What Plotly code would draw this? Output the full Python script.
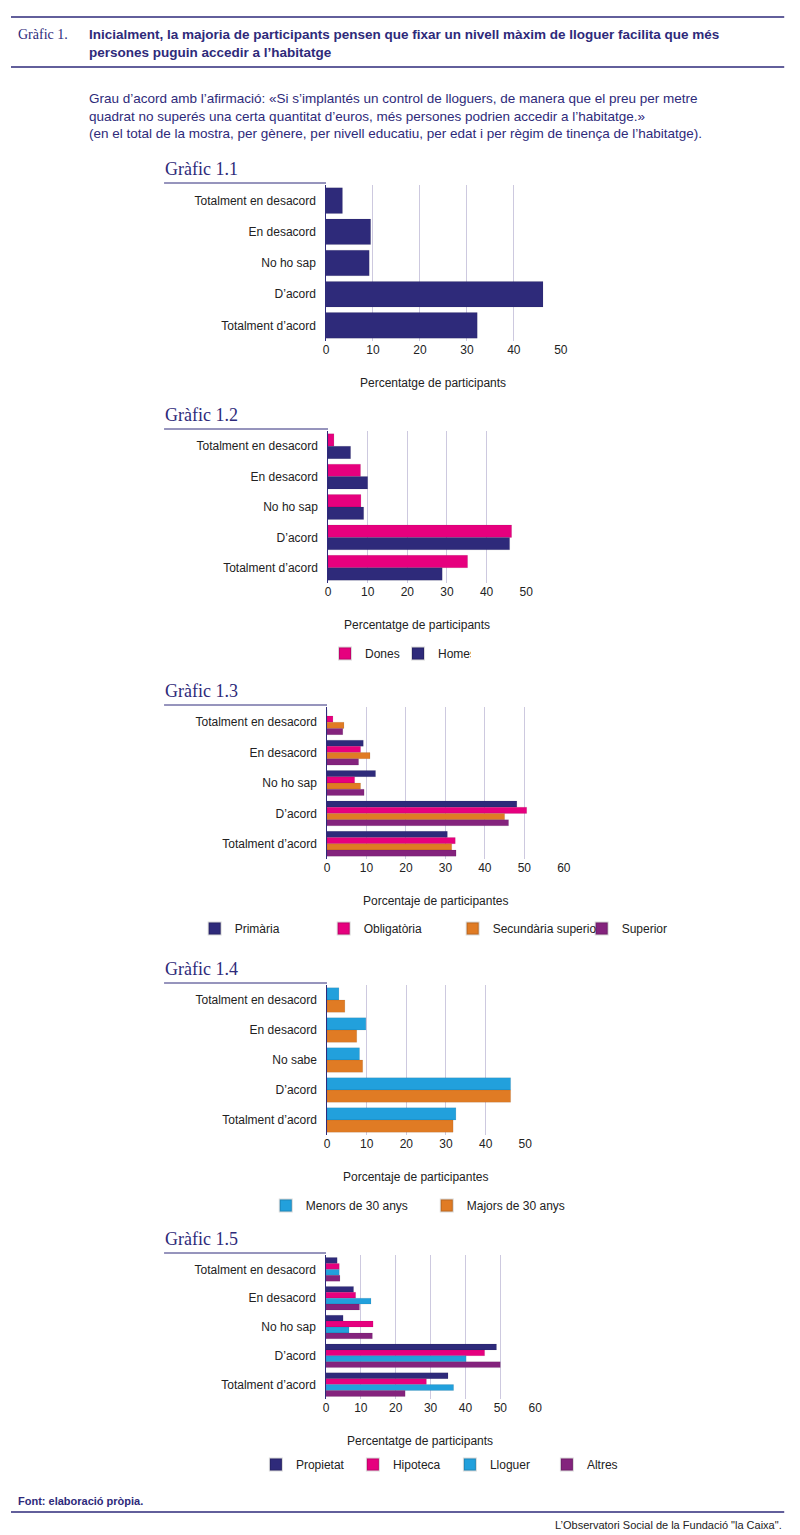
import plotly.graph_objects as go

W, H = 800, 1535
OFF = 7  # page margin compensation
NAVY = "#2e2a7a"
PINK = "#e6007e"
ORANGE = "#e07b24"
PURPLE = "#84237d"
CYAN = "#22a0dc"
GRID = "#cdc9df"

cats = ["Totalment en desacord", "En desacord", "No ho sap", "D’acord", "Totalment d’acord"]
cats_14 = ["Totalment en desacord", "En desacord", "No sabe", "D’acord", "Totalment d’acord"]

total = [3.5, 9.5, 9.2, 46.2, 32.2]

dones = [1.5, 8.2, 8.3, 46.3, 35.2]
homes = [5.7, 10.0, 9.0, 45.8, 28.8]

primaria = [0, 9.2, 12.3, 48.1, 30.5]
obligatoria = [1.5, 8.5, 7.0, 50.6, 32.5]
secundaria = [4.3, 10.9, 8.5, 45.0, 31.6]
superior = [4.0, 8.0, 9.4, 46.0, 32.7]

menors30 = [3.0, 9.8, 8.2, 46.3, 32.5]
majors30 = [4.5, 7.5, 9.0, 46.3, 31.8]

propietat = [3.2, 7.9, 4.9, 48.9, 35.0]
hipoteca = [3.8, 8.5, 13.5, 45.5, 28.8]
lloguer = [3.8, 12.9, 6.6, 40.2, 36.6]
altres = [4.0, 9.6, 13.3, 50.0, 22.7]


def px(x):
    return (x - OFF) / W


def py(y):
    return 1 - (y - OFF) / H


# (title, categories, series, x px of 0 and max, max, plot y px top/bottom, axis title, legend y px, legend x px, entrywidth)
charts = [
    ("Gràfic 1.1", cats, [("Total", total, NAVY)], (326, 563), 50, (184, 340),
     "Percentatge de participants", None, 0, 0),
    ("Gràfic 1.2", cats, [("Dones", dones, PINK), ("Homes", homes, NAVY)], (328, 528), 50, (430, 582),
     "Percentatge de participants", 648, 325, 28),
    ("Gràfic 1.3", cats, [("Primària", primaria, NAVY), ("Obligatòria", obligatoria, PINK),
                          ("Secundària superior", secundaria, ORANGE), ("Superior", superior, PURPLE)],
     (327, 566), 60, (706, 858), "Porcentaje de participantes", 923, 193, 84),
    ("Gràfic 1.4", cats_14, [("Menors de 30 anys", menors30, CYAN), ("Majors de 30 anys", majors30, ORANGE)],
     (327, 527), 50, (984, 1134), "Porcentaje de participantes", 1200, 265, 116),
    ("Gràfic 1.5", cats, [("Propietat", propietat, NAVY), ("Hipoteca", hipoteca, PINK),
                          ("Lloguer", lloguer, CYAN), ("Altres", altres, PURPLE)],
     (326, 537), 60, (1254, 1398), "Percentatge de participants", 1459, 255, 52),
]

fig = go.Figure()
layout = {}
annotations = []
shapes = []

for i, (title, cc, series, (x0, x1), xmax, (yt, yb), xtitle, ly, lx, ew) in enumerate(charts):
    n = i + 1
    xa = "x" if n == 1 else f"x{n}"
    ya = "y" if n == 1 else f"y{n}"
    lg = "legend" if n == 1 else f"legend{n}"
    for name, vals, col in series:
        fig.add_trace(go.Bar(
            y=cc, x=vals, name=name, orientation="h", marker_color=col,
            marker_line=dict(color="rgba(0,0,0,0.15)", width=0.5),
            xaxis=xa, yaxis=ya, legend=lg, showlegend=ly is not None,
        ))
    layout["xaxis" if n == 1 else f"xaxis{n}"] = dict(
        domain=[px(x0), px(x1) + 0.001], range=[0, xmax], dtick=10, anchor=ya,
        showgrid=True, gridcolor=GRID, gridwidth=1, zeroline=False,
        tickfont=dict(size=12, color="#222"), ticks="", showline=False,
    )
    layout["yaxis" if n == 1 else f"yaxis{n}"] = dict(
        domain=[py(yb), py(yt)], anchor=xa, categoryorder="array", categoryarray=cc,
        autorange="reversed", showline=True, linecolor=NAVY, linewidth=1,
        tickfont=dict(size=12, color="#222"), ticks="", ticksuffix="  ",
    )
    shapes.append(dict(type="line", xref="paper", yref="paper", x0=px(162), x1=px(x0),
                       y0=py(yt - 2), y1=py(yt - 2), line=dict(color=NAVY, width=1)))
    annotations.append(dict(text=title, x=px(161), y=py(yt - 4), xref="paper", yref="paper",
                            xanchor="left", yanchor="bottom", showarrow=False,
                            font=dict(family="Liberation Serif", size=18, color=NAVY)))
    annotations.append(dict(text=xtitle, x=px((x0 + x1) / 2 - 10), y=py(yb + 42), xref="paper",
                            yref="paper", xanchor="center", yanchor="middle", showarrow=False,
                            font=dict(size=12, color="#222")))
    if ly is not None:
        layout[lg] = dict(orientation="h", x=px(lx), y=py(ly - 10), xanchor="left", yanchor="top",
                          entrywidth=ew, font=dict(size=12, color="#222"), traceorder="normal",
                          bgcolor="rgba(0,0,0,0)", itemsizing="constant")

# header and footer
shapes += [
    dict(type="line", xref="paper", yref="paper", x0=px(7), x1=px(790), y0=py(16), y1=py(16),
         line=dict(color=NAVY, width=1.5)),
    dict(type="line", xref="paper", yref="paper", x0=px(7), x1=px(790), y0=py(66), y1=py(66),
         line=dict(color=NAVY, width=1.5)),
    dict(type="line", xref="paper", yref="paper", x0=px(7), x1=px(790), y0=py(1511), y1=py(1511),
         line=dict(color=NAVY, width=1.5)),
]
annotations += [
    dict(text="Gràfic 1.", x=px(12), y=py(33), xref="paper", yref="paper", xanchor="left",
         yanchor="middle", showarrow=False, font=dict(family="Liberation Serif", size=14, color=NAVY)),
    dict(text="<b>Inicialment, la majoria de participants pensen que fixar un nivell màxim de lloguer facilita que més<br>"
              "persones puguin accedir a l’habitatge</b>",
         x=px(84), y=py(42), xref="paper", yref="paper", xanchor="left", yanchor="middle", align="left",
         showarrow=False, font=dict(size=13.5, color=NAVY)),
    dict(text="Grau d’acord amb l’afirmació: «Si s’implantés un control de lloguers, de manera que el preu per metre<br>"
              "quadrat no superés una certa quantitat d’euros, més persones podrien accedir a l’habitatge.»<br>"
              "(en el total de la mostra, per gènere, per nivell educatiu, per edat i per règim de tinença de l’habitatge).",
         x=px(84), y=py(115), xref="paper", yref="paper", xanchor="left", yanchor="middle", align="left",
         showarrow=False, font=dict(size=13.5, color=NAVY)),
    dict(text="<b>Font: elaboració pròpia.</b>", x=px(12), y=py(1500), xref="paper", yref="paper",
         xanchor="left", yanchor="middle", showarrow=False, font=dict(size=11, color=NAVY)),
    dict(text="L’Observatori Social de la Fundació \"la Caixa\".", x=px(790), y=py(1524), xref="paper",
         yref="paper", xanchor="right", yanchor="middle", showarrow=False, font=dict(size=11, color="#222")),
]

fig.update_layout(
    width=W, height=H, margin=dict(l=0, r=0, t=0, b=0),
    paper_bgcolor="white", plot_bgcolor="white",
    font=dict(family="Liberation Sans", color="#222"),
    barmode="group", bargap=0.18, bargroupgap=0.0,
    annotations=annotations, shapes=shapes, **layout,
)

fig.write_html("out.html")
